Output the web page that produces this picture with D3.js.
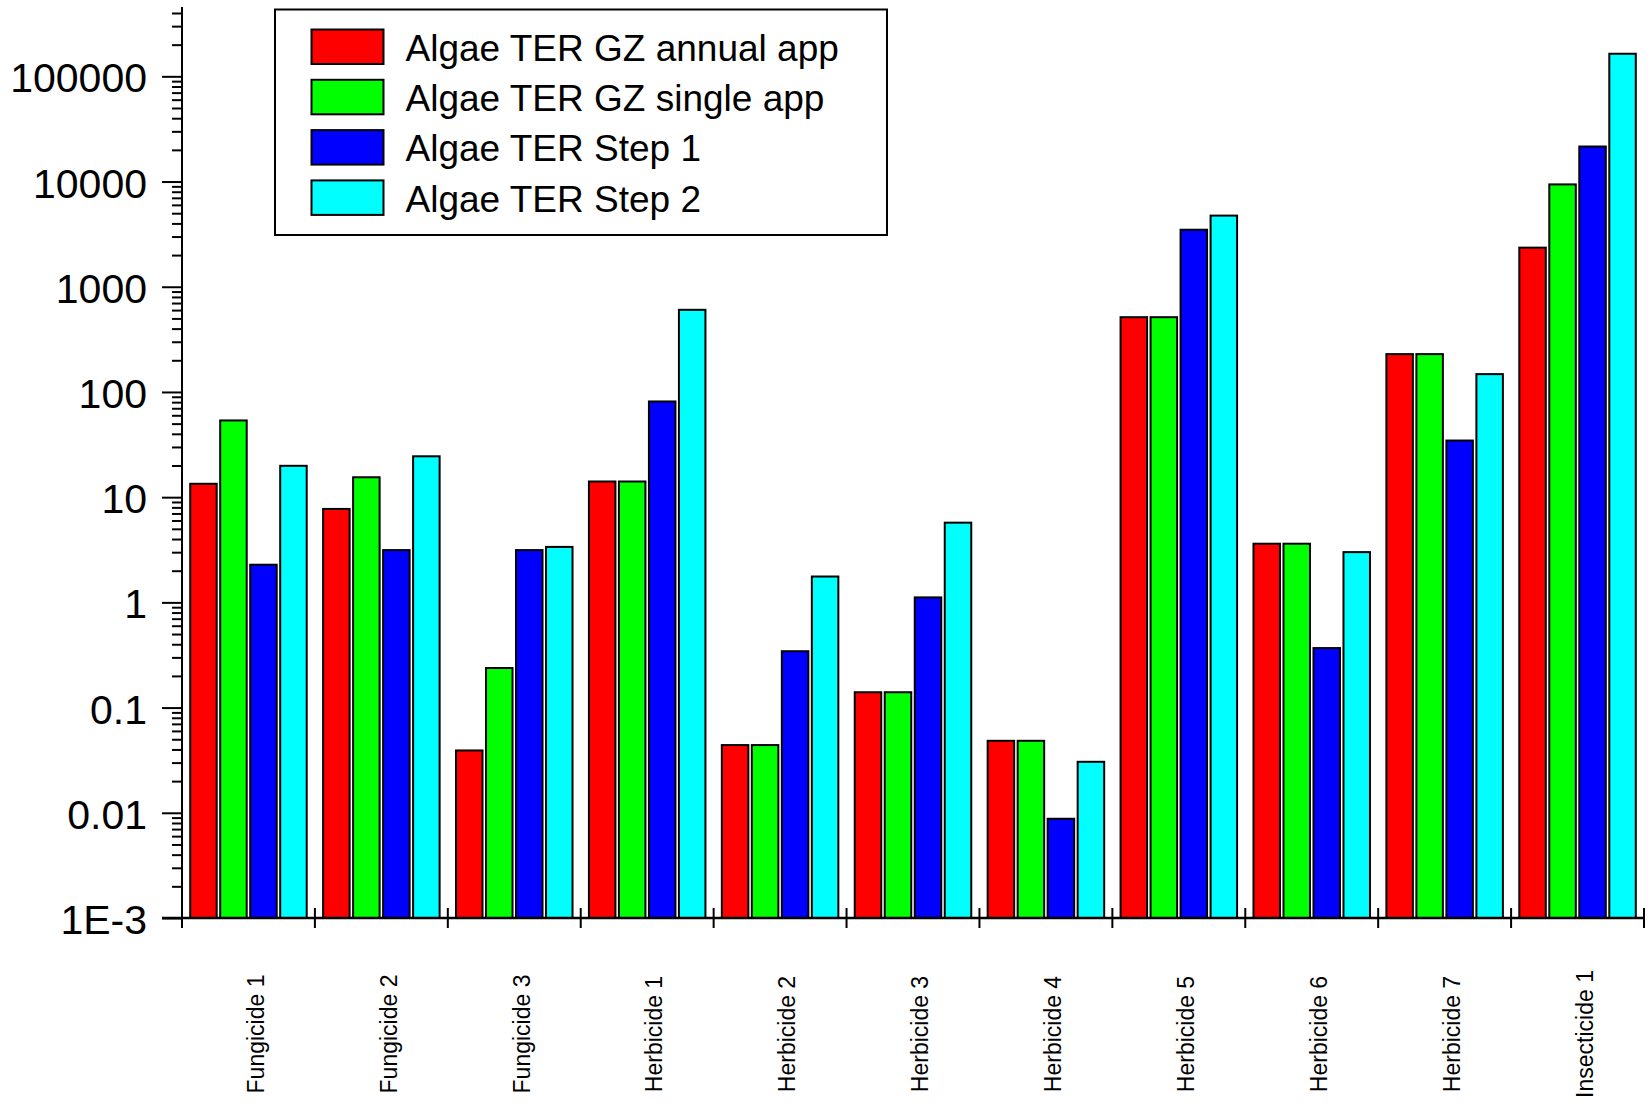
<!DOCTYPE html>
<html>
<head>
<meta charset="utf-8">
<script src="https://cdn.jsdelivr.net/npm/d3@7"></script>
<style>
  html, body { margin: 0; padding: 0; background: #fff; }
  svg { display: block; font-family: "Liberation Sans", Arial, sans-serif; }
</style>
</head>
<body>
<svg id="chart" width="1652" height="1106"></svg>
<script>
// Product names along the x axis
const categories = ["Fungicide 1", "Fungicide 2", "Fungicide 3", "Herbicide 1", "Herbicide 2",
  "Herbicide 3", "Herbicide 4", "Herbicide 5", "Herbicide 6", "Herbicide 7", "Insecticide 1"];

// Series names and fills
const seriesNames = ["Algae TER GZ annual app", "Algae TER GZ single app", "Algae TER Step 1", "Algae TER Step 2"];
const seriesColors = ["#ff0000", "#00ff00", "#0000ff", "#00ffff"];

// TER values per product
const annualApp = [13.7, 7.9, 0.040, 14.4, 0.045, 0.143, 0.0494, 525, 3.69, 234, 2405];
const singleApp = [54.8, 15.8, 0.243, 14.4, 0.045, 0.143, 0.0494, 525, 3.69, 234, 9600];
const step1 = [2.33, 3.21, 3.21, 83, 0.351, 1.14, 0.00897, 3560, 0.376, 35.3, 22000];
const step2 = [20.3, 25.0, 3.44, 617, 1.80, 5.85, 0.0312, 4850, 3.07, 151, 167500];

// Decade ticks on the log axis and their labels
const yTickValues = [1e-3, 1e-2, 1e-1, 1, 10, 100, 1000, 10000, 100000];
const yTickLabels = ["1E-3", "0.01", "0.1", "1", "10", "100", "1000", "10000", "100000"];

const seriesValues = [annualApp, singleApp, step1, step2];

const svg = d3.select("#chart");
const plotLeft = 182, plotRight = 1644, plotTop = 7, plotBottom = 918;
const yMin = 1e-3, yMax = 4.56e5;

const x = d3.scaleBand().domain(categories).range([plotLeft, plotRight]).padding(0);
const inner = d3.scaleBand().domain(d3.range(4))
  .range([7.2, x.bandwidth() - 7.2]).paddingInner(0.05).paddingOuter(0);
const y = d3.scaleLog().domain([yMin, yMax]).range([plotBottom, plotTop]);

// Bars
const groups = svg.append("g").selectAll("g")
  .data(categories)
  .join("g")
  .attr("transform", d => `translate(${x(d)},0)`);

groups.selectAll("rect")
  .data((d, ci) => seriesValues.map((vals, si) => ({ si, v: vals[ci] })))
  .join("rect")
  .attr("x", d => inner(d.si) + 1)
  .attr("width", inner.bandwidth() - 2)
  .attr("y", d => y(d.v) + 1)
  .attr("height", d => plotBottom - y(d.v) - 1)
  .attr("fill", d => seriesColors[d.si])
  .attr("stroke", "#000")
  .attr("stroke-width", 2);

// Y axis: major decades with labels, minor 2..9 ticks
const minorTicks = [];
for (let e = -3; e <= 5; e++) {
  for (let m = 2; m <= 9; m++) {
    const v = m * Math.pow(10, e);
    if (v <= yMax) minorTicks.push(v);
  }
}

const yMinor = svg.append("g")
  .attr("transform", `translate(${plotLeft},0)`)
  .call(d3.axisLeft(y).tickValues(minorTicks).tickSize(10).tickFormat(""));
yMinor.select(".domain").remove();

const yMajor = svg.append("g")
  .attr("transform", `translate(${plotLeft},0)`)
  .call(d3.axisLeft(y).tickValues(yTickValues).tickSize(20).tickPadding(15)
    .tickFormat((d, i) => yTickLabels[i]));
yMajor.select(".domain").remove();

svg.selectAll(".tick line").attr("stroke", "#000").attr("stroke-width", 2);
yMajor.selectAll(".tick text")
  .attr("font-size", 41)
  .attr("font-family", "'Liberation Sans', Arial, sans-serif")
  .attr("fill", "#000")
  .attr("dy", "0.38em");

// Y axis line
svg.append("line")
  .attr("x1", plotLeft).attr("x2", plotLeft)
  .attr("y1", plotTop).attr("y2", plotBottom + 10)
  .attr("stroke", "#000").attr("stroke-width", 2);

// X axis line and group separator ticks
svg.append("line")
  .attr("x1", plotLeft - 20).attr("x2", plotRight)
  .attr("y1", plotBottom).attr("y2", plotBottom)
  .attr("stroke", "#000").attr("stroke-width", 2.5);

const sepX = categories.map(c => x(c)).concat([plotRight]);
svg.append("g").selectAll("line")
  .data(sepX)
  .join("line")
  .attr("x1", d => d).attr("x2", d => d)
  .attr("y1", plotBottom - 10).attr("y2", plotBottom + 10)
  .attr("stroke", "#000").attr("stroke-width", 2);

// Category labels, rotated
svg.append("g").selectAll("text")
  .data(categories)
  .join("text")
  .attr("transform", d => `translate(${x(d) + x.bandwidth() / 2 + 7},1034) rotate(-90)`)
  .attr("text-anchor", "middle")
  .attr("dy", "0.36em")
  .attr("font-size", 23)
  .attr("fill", "#000")
  .text(d => d);

// Legend
const legend = svg.append("g");
legend.append("rect")
  .attr("x", 275).attr("y", 9.5)
  .attr("width", 612).attr("height", 225.5)
  .attr("fill", "#fff").attr("stroke", "#000").attr("stroke-width", 2);

const items = legend.selectAll("g.item")
  .data(seriesNames)
  .join("g")
  .attr("class", "item")
  .attr("transform", (d, i) => `translate(0,${i * 50.3})`);

items.append("rect")
  .attr("x", 311.5).attr("y", 29.5)
  .attr("width", 72).attr("height", 34.5)
  .attr("fill", (d, i) => seriesColors[i])
  .attr("stroke", "#000").attr("stroke-width", 2);

items.append("text")
  .attr("x", 405.5).attr("y", 47.5)
  .attr("dy", "0.36em")
  .attr("font-size", 37)
  .attr("fill", "#000")
  .text(d => d);
</script>
</body>
</html>
